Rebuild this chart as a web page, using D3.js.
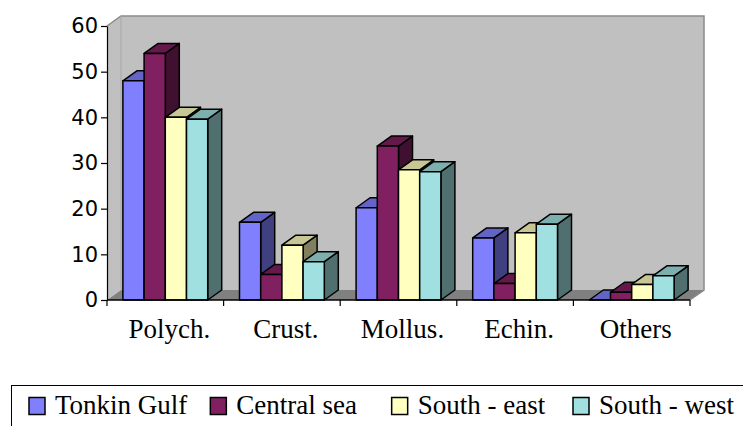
<!DOCTYPE html>
<html>
<head>
<meta charset="utf-8">
<script src="https://cdn.jsdelivr.net/npm/d3@7"></script>
<style>
  html, body { margin: 0; padding: 0; background: #fff; overflow: hidden; }
  svg { display: block; }
  .serif { font-family: "Liberation Serif", "DejaVu Serif", serif; }
  .sans { font-family: "DejaVu Sans", Verdana, sans-serif; }
</style>
</head>
<body>
<svg id="chart" width="743" height="426"></svg>
<script>
// Benthic groups and percentage share per sea area
const categories = ["Polych.", "Crust.", "Mollus.", "Echin.", "Others"];
const seriesNames = ["Tonkin Gulf", "Central sea", "South - east", "South - west"];
const tonkinGulf = [48, 17, 20.2, 13.6, 0];
const centralSea = [54, 5.6, 33.7, 3.6, 1.7];
const southEast  = [40, 12, 28.5, 14.7, 3.4];
const southWest  = [39.6, 8.4, 28.1, 16.6, 5.3];
const yTicks = [0, 10, 20, 30, 40, 50, 60];

const seriesValues = [tonkinGulf, centralSea, southEast, southWest];
const frontColors = ["#8080ff", "#802060", "#ffffc0", "#a0e0e0"];

const svg = d3.select("#chart");

// oblique depth of the 3D box
const DX = 14, DY = -10;

const x = d3.scaleBand().domain(categories).range([107, 690]).padding(0);
const xs = d3.scaleBand().domain(seriesNames).range([0, x.bandwidth()])
  .paddingInner(0).paddingOuter(0.75);
const y = d3.scaleLinear().domain([0, 60]).range([300, 26]);

const [x0, x1] = x.range();
const yTop = y(60), yBase = y(0);

// walls and floor
const g = svg.append("g");
g.append("polygon")
  .attr("points", [[x0 + DX, yTop + DY], [x1 + DX, yTop + DY], [x1 + DX, yBase + DY], [x0 + DX, yBase + DY]].join(" "))
  .attr("fill", "#c0c0c0");
g.append("polygon")
  .attr("points", [[x0, yTop], [x0 + DX, yTop + DY], [x0 + DX, yBase + DY], [x0, yBase]].join(" "))
  .attr("fill", "#c0c0c0");
g.append("polygon")
  .attr("points", [[x0, yBase], [x0 + DX, yBase + DY], [x1 + DX, yBase + DY], [x1, yBase]].join(" "))
  .attr("fill", "#808080");
// wall edges
g.append("path")
  .attr("d", `M${x0},${yTop}L${x0 + DX},${yTop + DY}L${x1 + DX},${yTop + DY}L${x1 + DX},${yBase + DY}L${x1},${yBase}`)
  .attr("fill", "none").attr("stroke", "#8a8a8a").attr("stroke-width", 1.5);
g.append("line")
  .attr("x1", x0 + DX).attr("y1", yTop + DY).attr("x2", x0 + DX).attr("y2", yBase + DY)
  .attr("stroke", "#a8a8a8").attr("stroke-width", 1);

// bars, drawn left to right so nearer faces overlap correctly
const shade = (c, k) => { const r = d3.rgb(c); return d3.rgb(r.r * k, r.g * k, r.b * k).formatHex(); };
const bars = svg.append("g")
  .attr("stroke", "#000").attr("stroke-width", 1.5).attr("stroke-linejoin", "round");

categories.forEach((cat, ci) => {
  seriesNames.forEach((name, si) => {
    const v = seriesValues[si][ci];
    const bx = x(cat) + xs(name), w = xs.bandwidth();
    const by = y(v);
    const col = frontColors[si];
    bars.append("polygon")
      .attr("points", [[bx + w, by], [bx + w + DX, by + DY], [bx + w + DX, yBase + DY], [bx + w, yBase]].join(" "))
      .attr("fill", shade(col, 0.5));
    bars.append("polygon")
      .attr("points", [[bx, by], [bx + DX, by + DY], [bx + w + DX, by + DY], [bx + w, by]].join(" "))
      .attr("fill", shade(col, 0.78));
    bars.append("rect")
      .attr("x", bx).attr("y", by).attr("width", w).attr("height", yBase - by)
      .attr("fill", col);
  });
});

// y axis
const yAxis = svg.append("g")
  .attr("transform", `translate(${x0},0)`)
  .call(d3.axisLeft(y).tickValues(yTicks).tickSize(6).tickSizeOuter(0).tickPadding(3));
yAxis.attr("font-family", null).attr("font-size", null);
yAxis.select(".domain").attr("stroke", "#000").attr("stroke-width", 1.2);
yAxis.selectAll(".tick line").attr("stroke", "#000").attr("stroke-width", 1.2);
yAxis.selectAll("text")
  .attr("class", "sans")
  .style("font-size", "21px").attr("fill", "#000");

// category axis along the front floor edge
const xAxis = svg.append("g");
xAxis.append("line")
  .attr("x1", x0).attr("x2", x1).attr("y1", yBase).attr("y2", yBase)
  .attr("stroke", "#000").attr("stroke-width", 1.5);
xAxis.selectAll("line.tick")
  .data(categories.map(c => x(c)).concat([x1]))
  .join("line").attr("class", "tick")
  .attr("x1", d => d).attr("x2", d => d).attr("y1", yBase).attr("y2", yBase + 6)
  .attr("stroke", "#000").attr("stroke-width", 1.2);

xAxis.selectAll("text")
  .data(categories)
  .join("text")
  .attr("class", "serif")
  .attr("x", d => x(d) + x.bandwidth() / 2 + 4)
  .attr("y", 338)
  .attr("text-anchor", "middle")
  .style("font-size", "27px").attr("fill", "#000")
  .text(d => d);

// legend
const legend = svg.append("g");
legend.append("rect")
  .attr("x", 11.5).attr("y", 385.5).attr("width", 800).attr("height", 100)
  .attr("fill", "#fff").attr("stroke", "#000").attr("stroke-width", 1);
const lx = d3.scalePoint().domain(seriesNames).range([29, 573]);
const items = legend.selectAll("g.item").data(seriesNames).join("g")
  .attr("class", "item")
  .attr("transform", d => `translate(${lx(d)},0)`);
items.append("rect")
  .attr("x", 0).attr("y", 397.5).attr("width", 16).attr("height", 17)
  .attr("fill", (d, i) => frontColors[i]).attr("stroke", "#000").attr("stroke-width", 1.5);
items.append("text")
  .attr("class", "serif")
  .attr("x", 26).attr("y", 414)
  .style("font-size", "27px").attr("fill", "#000")
  .text(d => d);
</script>
</body>
</html>
